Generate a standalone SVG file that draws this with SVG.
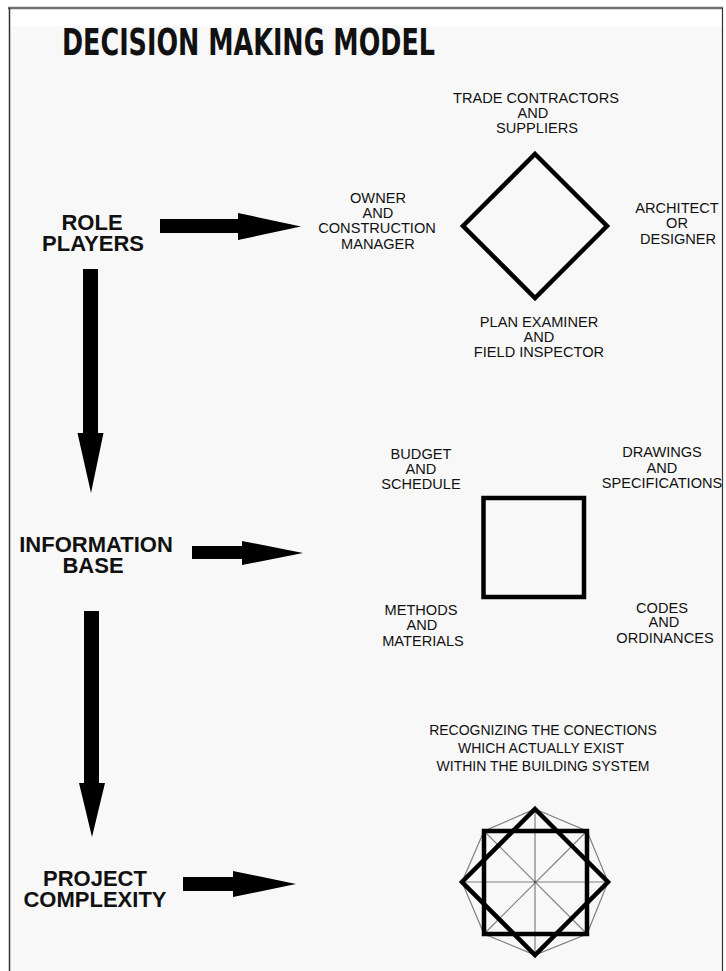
<svg xmlns="http://www.w3.org/2000/svg" width="726" height="971" viewBox="0 0 726 971">
<style>
.lbl{font-family:"Liberation Sans",Arial,sans-serif;font-size:14.6px;fill:#111;text-anchor:middle}
.sm{font-family:"Liberation Sans",Arial,sans-serif;font-size:14px;fill:#111;text-anchor:middle}
.big{font-family:"Liberation Sans",Arial,sans-serif;font-size:22px;font-weight:bold;fill:#111;text-anchor:middle}
.thick{fill:none;stroke:#000;stroke-width:4.5;stroke-linejoin:miter}
.thin{fill:none;stroke:#808080;stroke-width:1.2}
.arrow{fill:#000}
</style>
<rect x="0" y="0" width="726" height="971" fill="#fff"/>
<rect x="10" y="26" width="712" height="945" fill="#f8f8f8"/>
<g id="frame">
<line x1="8" y1="8" x2="723" y2="8" stroke="#707070" stroke-width="2.5"/>
<line x1="9.5" y1="8" x2="9.5" y2="971" stroke="#333" stroke-width="1.5"/>
<line x1="722.5" y1="8" x2="722.5" y2="971" stroke="#333" stroke-width="1.2"/>
</g>
<g id="title">
<text x="62" y="55" font-family="DejaVu Sans,sans-serif" font-weight="bold" font-size="37" fill="#111" textLength="373" lengthAdjust="spacingAndGlyphs">DECISION MAKING MODEL</text>
</g>
<g id="role-players">
<text class="big" x="92" y="230">ROLE</text>
<text class="big" x="93" y="251">PLAYERS</text>
</g>
<g id="information-base">
<text class="big" x="96" y="552">INFORMATION</text>
<text class="big" x="93" y="573">BASE</text>
</g>
<g id="project-complexity">
<text class="big" x="95" y="886">PROJECT</text>
<text class="big" x="95" y="907">COMPLEXITY</text>
</g>
<g id="connectors">
<polygon class="arrow" points="160,219 238,219 238,213 301,226.5 238,240 238,233 160,233"/>
<polygon class="arrow" points="192,546 242,546 242,541 303,553 242,565 242,559 192,559"/>
<polygon class="arrow" points="183,877 233,877 233,871 296,884 233,897 233,891 183,891"/>
<polygon class="arrow" points="83,269 98,269 98,433 103.5,433 91,493 77.5,433 83,433"/>
<polygon class="arrow" points="84,611 99,611 99,783 105,783 92,837 79,783 84,783"/>
</g>
<g id="role-diagram">
<polygon class="thick" points="535,154 607,226 535,298 463,226"/>
<text class="lbl" x="536" y="103">TRADE CONTRACTORS</text>
<text class="lbl" x="533" y="118">AND</text>
<text class="lbl" x="537" y="133">SUPPLIERS</text>
<text class="lbl" x="378" y="203">OWNER</text>
<text class="lbl" x="378" y="218">AND</text>
<text class="lbl" x="377" y="233">CONSTRUCTION</text>
<text class="lbl" x="378" y="249">MANAGER</text>
<text class="lbl" x="677" y="213">ARCHITECT</text>
<text class="lbl" x="677" y="228">OR</text>
<text class="lbl" x="678" y="244">DESIGNER</text>
<text class="lbl" x="539" y="327">PLAN EXAMINER</text>
<text class="lbl" x="539" y="342">AND</text>
<text class="lbl" x="539" y="357">FIELD INSPECTOR</text>
</g>
<g id="info-diagram">
<rect class="thick" x="483.5" y="498" width="100.5" height="99"/>
<text class="lbl" x="421" y="459">BUDGET</text>
<text class="lbl" x="421" y="474">AND</text>
<text class="lbl" x="421" y="489">SCHEDULE</text>
<text class="lbl" x="662" y="457">DRAWINGS</text>
<text class="lbl" x="662" y="473">AND</text>
<text class="lbl" x="662" y="488">SPECIFICATIONS</text>
<text class="lbl" x="421" y="615">METHODS</text>
<text class="lbl" x="422" y="630">AND</text>
<text class="lbl" x="423" y="646">MATERIALS</text>
<text class="lbl" x="662" y="613">CODES</text>
<text class="lbl" x="664" y="627">AND</text>
<text class="lbl" x="665" y="643">ORDINANCES</text>
</g>
<g id="complexity-diagram">
<text class="sm" x="543" y="735">RECOGNIZING THE CONECTIONS</text>
<text class="sm" x="541" y="753">WHICH ACTUALLY EXIST</text>
<text class="sm" x="543" y="771">WITHIN THE BUILDING SYSTEM</text>
<polygon class="thin" points="535,809 587,831 608,882 587,934 535,955 484,934 462,882 484,831"/>
<line class="thin" x1="535" y1="809" x2="535" y2="955"/>
<line class="thin" x1="462" y1="882" x2="608" y2="882"/>
<line class="thin" x1="484" y1="831" x2="587" y2="934"/>
<line class="thin" x1="587" y1="831" x2="484" y2="934"/>
<rect class="thick" x="484" y="831" width="103" height="103"/>
<polygon class="thick" points="535,809 608,882 535,955 462,882"/>
<circle cx="535" cy="882" r="1.3" fill="#555"/>
</g>
</svg>
